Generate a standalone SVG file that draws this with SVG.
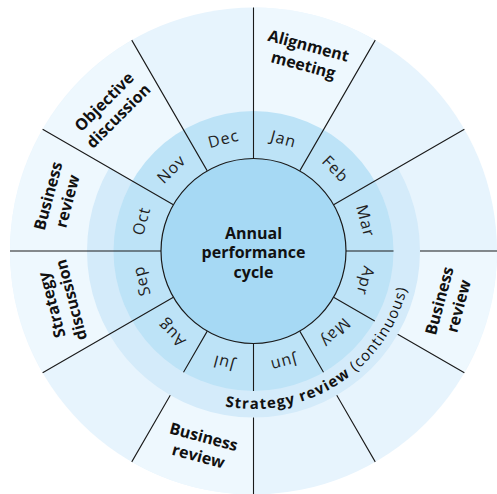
<svg xmlns="http://www.w3.org/2000/svg" width="497" height="494" viewBox="0 0 497 494">
<defs>
<style>
.outer{fill:#e7f4fd}
.lab{fill:#eef8fe}
.band{fill:#d4ebfa}
.month{fill:#bde3f7}
.core{fill:#a6d9f4;stroke:#1a1a1a;stroke-width:1.2}
.ln{stroke:#1a1a1a;stroke-width:1.1;fill:none}
.m{font-family:"Open Sans","Liberation Sans",sans-serif;font-size:16px;font-weight:400;fill:#222;text-anchor:middle;letter-spacing:1px}
.b{font-family:"Open Sans","Liberation Sans",sans-serif;font-size:16px;font-weight:700;fill:#111;text-anchor:middle}
.sr{font-family:"Open Sans","Liberation Sans",sans-serif;font-size:15px;fill:#111;letter-spacing:1.1px}
</style>
<path id="srPath" d="M174.5,387.83 A158,158 0 0 0 409.1,223.56"/>
</defs>
<g id="rings">
<circle class="outer" cx="253.5" cy="251" r="243.5"/>
<path class="lab" d="M253.5,251 L253.5,7.5 A243.5,243.5 0 0 1 375.25,40.13 Z"/>
<path class="lab" d="M253.5,251 L497,251 A243.5,243.5 0 0 1 464.37,372.75 Z"/>
<path class="lab" d="M253.5,251 L253.5,494.5 A243.5,243.5 0 0 1 131.75,461.87 Z"/>
<path class="lab" d="M253.5,251 L42.63,372.75 A243.5,243.5 0 0 1 10,251 Z"/>
<path class="lab" d="M253.5,251 L10,251 A243.5,243.5 0 0 1 42.63,129.25 Z"/>
<path class="lab" d="M253.5,251 L42.63,129.25 A243.5,243.5 0 0 1 131.75,40.13 Z"/>
<path id="strategy-band" class="band" d="M253.5,251 L397.69,167.75 A166.5,166.5 0 1 1 109.31,167.75 Z"/>
<circle class="month" cx="253.5" cy="251" r="140"/>
</g>
<g id="connectors">
<path class="ln" d="M253.5,158.5 L253.5,7.5 M299.75,170.89 L375.25,40.13 M333.61,204.75 L464.37,129.25 M346,251 L393.5,251 M420,251 L497,251 M333.61,297.25 L374.74,321 M397.69,334.25 L464.37,372.75 M299.75,331.11 L323.5,372.24 M336.75,395.19 L375.25,461.87 M253.5,343.5 L253.5,391 M253.5,417.5 L253.5,494.5 M207.25,331.11 L183.5,372.24 M170.25,395.19 L131.75,461.87 M173.39,297.25 L42.63,372.75 M161,251 L10,251 M173.39,204.75 L42.63,129.25 M207.25,170.89 L131.75,40.13"/>
</g>
<g id="center">
<circle class="core" cx="253.5" cy="251" r="92.5"/>
<text class="b" x="253.5" y="238.5">Annual</text>
<text class="b" x="253.5" y="258">performance</text>
<text class="b" x="253.5" y="277.5">cycle</text>
</g>
<g id="months">
<text class="m" transform="translate(283.5 139) rotate(15)" y="5.5">Jan</text>
<text class="m" transform="translate(335.5 169) rotate(45)" y="5.5">Feb</text>
<text class="m" transform="translate(365.5 221) rotate(75)" y="5.5">Mar</text>
<text class="m" transform="translate(365.5 281) rotate(105)" y="5.5">Apr</text>
<text class="m" transform="translate(335.5 333) rotate(135)" y="5.5">May</text>
<text class="m" transform="translate(283.5 363) rotate(165)" y="5.5">Jun</text>
<text class="m" transform="translate(223.5 363) rotate(195)" y="5.5">Jul</text>
<text class="m" transform="translate(171.5 333) rotate(225)" y="5.5">Aug</text>
<text class="m" transform="translate(141.5 281) rotate(255)" y="5.5">Sep</text>
<text class="m" transform="translate(141.5 221) rotate(285)" y="5.5">Oct</text>
<text class="m" transform="translate(171.5 169) rotate(315)" y="5.5">Nov</text>
<text class="m" transform="translate(223.5 139) rotate(345)" y="5.5">Dec</text>
</g>
<g id="alignment-meeting">
<text class="b" transform="translate(306 55) rotate(15)"><tspan x="0" y="-4">Alignment</tspan><tspan x="0" y="16">meeting</tspan></text>
</g>
<g id="business-review-apr">
<text class="b" transform="translate(448.6 303.3) rotate(-75)"><tspan x="0" y="-4">Business</tspan><tspan x="0" y="16">review</tspan></text>
</g>
<g id="business-review-jul">
<text class="b" transform="translate(201.2 446.1) rotate(15)"><tspan x="0" y="-4">Business</tspan><tspan x="0" y="16">review</tspan></text>
</g>
<g id="strategy-discussion">
<text class="b" transform="translate(61 302.5) rotate(-105)"><tspan x="0" y="-4">Strategy</tspan><tspan x="0" y="16">discussion</tspan></text>
</g>
<g id="business-review-oct">
<text class="b" transform="translate(57.4 198.5) rotate(-75)"><tspan x="0" y="-4">Business</tspan><tspan x="0" y="16">review</tspan></text>
</g>
<g id="objective-discussion">
<text class="b" transform="translate(111 108.5) rotate(-45)"><tspan x="0" y="-4">Objective</tspan><tspan x="0" y="16">discussion</tspan></text>
</g>
<g id="strategy-review">
<text class="sr"><textPath href="#srPath" startOffset="54"><tspan font-weight="700">Strategy review </tspan><tspan font-weight="400">(continuous)</tspan></textPath></text>
</g>
</svg>
